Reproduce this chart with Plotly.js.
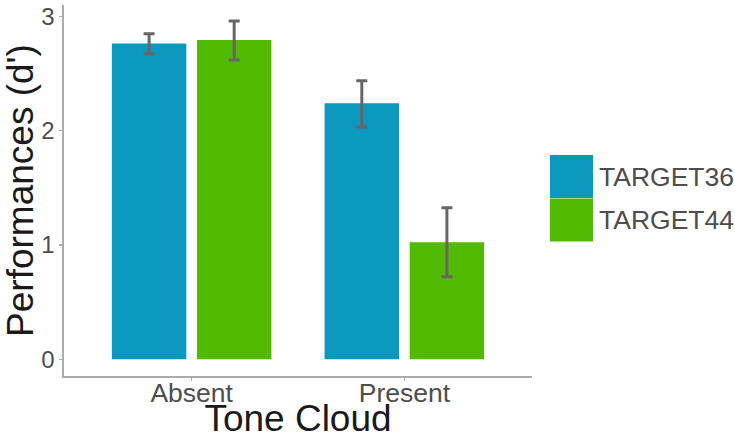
<!DOCTYPE html>
<html>
<head>
<meta charset="utf-8">
<script src="https://cdn.plot.ly/plotly-3.0.1.min.js"></script>
<style>html,body{margin:0;padding:0;background:#fff;}#chart{width:735px;height:439px;}</style>
</head>
<body>
<div id="chart"></div>
<script>
// ---- data ----
const categories = ["Absent", "Present"];
const seriesNames = ["TARGET36", "TARGET44"];
const target36 = [2.764, 2.240];
const target44 = [2.793, 1.025];
const target36ErrUp = [0.085, 0.198];
const target36ErrDown = [0.090, 0.207];
const target44ErrUp = [0.166, 0.300];
const target44ErrDown = [0.175, 0.303];
const yTicks = [0, 1, 2, 3];

// ---- style ----
const colors = ["#0b98bf", "#53ba03"];
const W = 735, H = 439;
const M = {l: 64, r: 203, t: 5, b: 63};
const PW = W - M.l - M.r, PH = H - M.t - M.b;
const px2x = p => (p - M.l) / PW;
const px2y = p => 1 - (p - M.t) / PH;
const FONT = "Liberation Sans, Arial, Helvetica, sans-serif";
const axisGray = "#ababab";

const errStyle = {type: "data", symmetric: false, color: "#666666", thickness: 3, width: 5.5};

const traces = [
  {type: "bar", name: seriesNames[0], x: categories, y: target36,
   marker: {color: colors[0]}, showlegend: false,
   error_y: Object.assign({array: target36ErrUp, arrayminus: target36ErrDown}, errStyle)},
  {type: "bar", name: seriesNames[1], x: categories, y: target44,
   marker: {color: colors[1]}, showlegend: false,
   error_y: Object.assign({array: target44ErrUp, arrayminus: target44ErrDown}, errStyle)}
];

// manual legend (large keys like ggplot)
const shapes = [], annotations = [];
const keyTop = 155, keyH = 43.5, keyL = 550, keyW = 43;
seriesNames.forEach((n, i) => {
  const y0 = keyTop + i * keyH;
  shapes.push({type: "rect", xref: "paper", yref: "paper",
    x0: px2x(keyL), x1: px2x(keyL + keyW), y0: px2y(y0 + keyH - 0.5), y1: px2y(y0),
    fillcolor: colors[i], line: {width: 0}});
  annotations.push({xref: "paper", yref: "paper", x: px2x(keyL + keyW + 4), y: px2y(y0 + keyH / 2),
    xanchor: "left", yanchor: "middle", text: n, showarrow: false,
    font: {family: FONT, size: 26.5, color: "#4d4d4d"}});
});

const layout = {
  width: W, height: H,
  margin: M,
  paper_bgcolor: "#fff", plot_bgcolor: "#fff",
  barmode: "group", bargap: 0.2, bargroupgap: 0.125,
  showlegend: false,
  xaxis: {
    type: "category", categoryarray: categories, range: [-0.6, 1.6],
    showline: true, linecolor: axisGray, linewidth: 1.6,
    ticks: "outside", ticklen: 3, tickcolor: axisGray, tickwidth: 1.4,
    ticklabelstandoff: -10,
    showgrid: false, zeroline: false,
    tickfont: {family: FONT, size: 26.5, color: "#4d4d4d"},
    title: {text: "Tone Cloud", font: {family: FONT, size: 37, color: "#1a1a1a"}, standoff: 6}
  },
  yaxis: {
    range: [-0.146, 3.1], tickvals: yTicks, ticktext: yTicks.map(String),
    showline: true, linecolor: axisGray, linewidth: 1.6,
    ticks: "outside", ticklen: 3, tickcolor: axisGray, tickwidth: 1.4,
    showgrid: false, zeroline: false,
    tickfont: {family: FONT, size: 24, color: "#4d4d4d"},
    title: {text: "Performances (d')", font: {family: FONT, size: 37, color: "#1a1a1a"}, standoff: 5}
  },
  shapes: shapes,
  annotations: annotations
};

Plotly.newPlot("chart", traces, layout, {displayModeBar: false, staticPlot: true});
</script>
</body>
</html>
